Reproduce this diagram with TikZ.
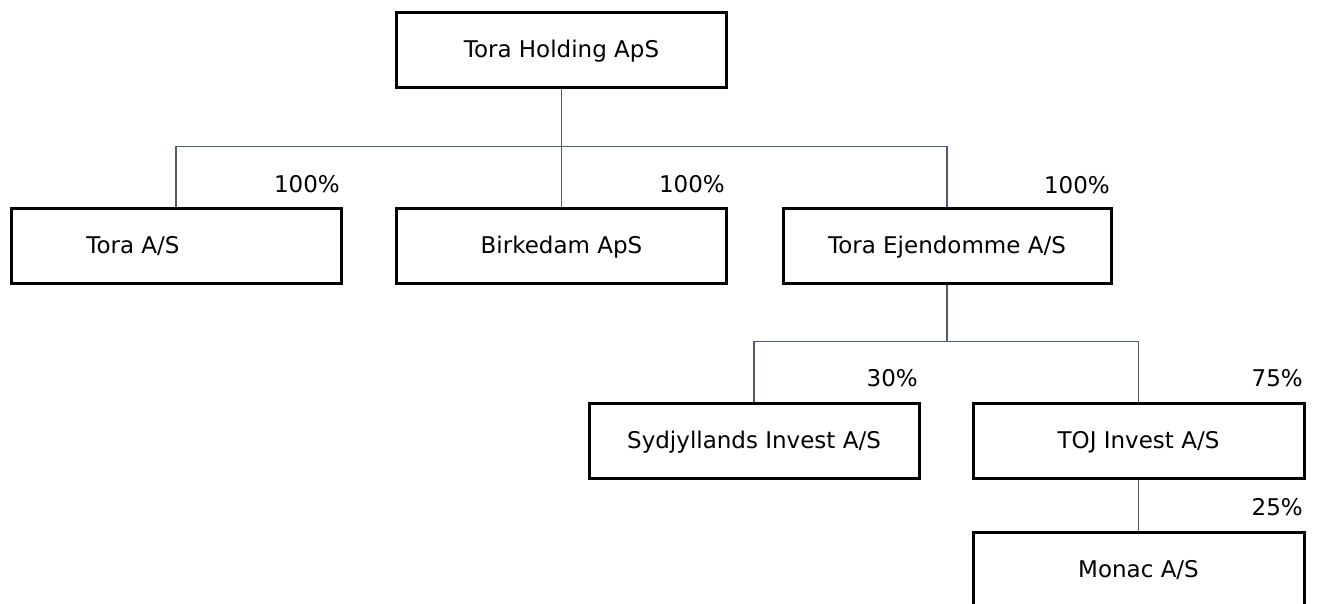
\documentclass[tikz,border=0pt]{standalone}
\usepackage{fontspec}
\setmainfont{DejaVu Sans}
\definecolor{connc}{RGB}{80,93,113}
\tikzset{
  orgbox/.style={draw=black, line width=3pt, rectangle, minimum width=330pt, minimum height=75pt, inner sep=0pt, text height=16.8pt, text depth=0pt, font=\fontsize{23}{27}\selectfont},
  conn/.style={draw=connc, line width=1.4pt},
  pct/.style={anchor=east, inner sep=0pt, font=\fontsize{23}{27}\selectfont}
}
\begin{document}
\begin{tikzpicture}[x=1pt, y=-1pt]
\useasboundingbox (0,0) rectangle (1319,603);
\begin{scope}
\clip (0,0) rectangle (1319,603);
\node[orgbox] (hold) at (561.5,49.5) {Tora Holding ApS};
\node[orgbox, label={[font=\fontsize{23}{27}\selectfont, inner sep=0pt, text height=16.8pt, text depth=0pt]center:\hspace*{-86pt}Tora A/S}] (toraas) at (176,245.5) {};
\node[orgbox] (birk) at (561.5,245.5) {Birkedam ApS};
\node[orgbox, minimum width=328pt] (ejd) at (947,245.5) {Tora Ejendomme A/S};
\node[orgbox] (syd) at (754,440.5) {Sydjyllands Invest A/S};
\node[orgbox, minimum width=331pt] (toj) at (1138.5,440.5) {TOJ Invest A/S};
\node[orgbox, minimum width=331pt] (monac) at (1138.5,569.5) {Monac A/S};

\draw[conn] (toraas.north) -- ++(0,-60) coordinate (bus1) -| (ejd.north);
\draw[conn] (hold.south) -- (birk.north);
\draw[conn] (syd.north) -- ++(0,-60) coordinate (bus2) -| (toj.north);
\draw[conn] (ejd.south) -- (ejd.south |- bus2);
\draw[conn] (toj.south) -- (monac.north);

\node[pct] (p1) at (340,184) {100\%};
\node[pct] (p2) at (725,184) {100\%};
\node[pct] (p3) at (1110,185) {100\%};
\node[pct] (p4) at (918,378) {30\%};
\node[pct] (p5) at (1303,378) {75\%};
\node[pct] (p6) at (1303,507) {25\%};
\end{scope}
\end{tikzpicture}
\end{document}
